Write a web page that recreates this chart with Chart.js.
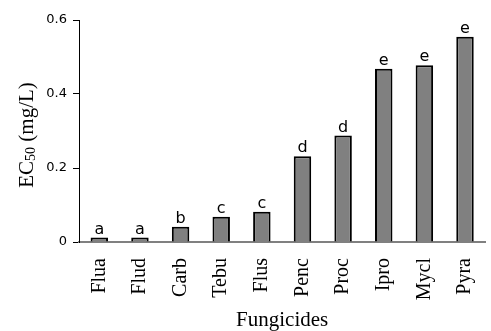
<!DOCTYPE html>
<html>
<head>
<meta charset="utf-8">
<script src="https://cdn.jsdelivr.net/npm/chart.js@4"></script>
<style>
  html, body { margin: 0; padding: 0; background: #fff; overflow: hidden; }
  canvas { display: block; }
</style>
</head>
<body>
<canvas id="myChart" width="497" height="331"></canvas>
<script>
// data
const fungicides = ['Flua', 'Flud', 'Carb', 'Tebu', 'Flus', 'Penc', 'Proc', 'Ipro', 'Mycl', 'Pyra'];
const ec50 = [0.012, 0.012, 0.041, 0.068, 0.082, 0.232, 0.288, 0.468, 0.478, 0.555];
const groups = ['a', 'a', 'b', 'c', 'c', 'd', 'd', 'e', 'e', 'e'];
const yTicks = [0, 0.2, 0.4, 0.6];

// letters over bars + the two axis titles
const extras = {
    id: 'extras',
    afterDatasetsDraw(chart) {
        const ctx = chart.ctx;
        const bars = chart.getDatasetMeta(0).data;
        ctx.save();
        ctx.fillStyle = '#000';
        ctx.font = '16px "DejaVu Sans"';
        ctx.textAlign = 'center';
        ctx.textBaseline = 'bottom';
        bars.forEach((b, i) => {
            ctx.fillText(groups[i], b.x, b.y);
        });
        ctx.restore();

        const area = chart.chartArea;
        // x title
        ctx.save();
        ctx.fillStyle = '#000';
        ctx.font = '21px "Liberation Serif"';
        ctx.textAlign = 'center';
        ctx.textBaseline = 'alphabetic';
        ctx.fillText('Fungicides', (area.left + area.right) / 2, 326);
        ctx.restore();

        // y title with subscript
        ctx.save();
        ctx.fillStyle = '#000';
        ctx.translate(33, 135);
        ctx.rotate(-Math.PI / 2);
        ctx.textBaseline = 'alphabetic';
        ctx.textAlign = 'left';
        const big = '21px "Liberation Serif"', small = '14px "Liberation Serif"';
        ctx.font = big;
        const w1 = ctx.measureText('EC').width;
        const w3 = ctx.measureText(' (mg/L)').width;
        ctx.font = small;
        const w2 = ctx.measureText('50').width;
        let x = -(w1 + w2 + w3) / 2;
        ctx.font = big;
        ctx.fillText('EC', x, 0);
        x += w1;
        ctx.font = small;
        ctx.fillText('50', x, 2);
        x += w2;
        ctx.font = big;
        ctx.fillText(' (mg/L)', x, 0);
        ctx.restore();
    }
};

new Chart(document.getElementById('myChart').getContext('2d'), {
    type: 'bar',
    data: {
        labels: fungicides,
        datasets: [
            {
                data: ec50,
                backgroundColor: '#808080',
                borderColor: '#000',
                borderWidth: 2,
                barPercentage: 0.43,
                categoryPercentage: 1
            }
        ]
    },
    options: {
        responsive: false,
        devicePixelRatio: 1,
        animation: false,
        layout: {padding: {top: 20, left: 0, right: 0, bottom: 0}},
        plugins: {legend: {display: false}, tooltip: {enabled: false}},
        scales: {
            x: {
                grid: {display: false},
                border: {display: true, color: '#808080', width: 2},
                ticks: {
                    color: '#000',
                    font: {family: 'Liberation Serif', size: 20},
                    minRotation: 90,
                    maxRotation: 90,
                    padding: 8
                },
                afterFit(scale) { scale.height = 89; }
            },
            y: {
                min: 0,
                max: 0.6,
                grid: {drawOnChartArea: false, drawTicks: true, tickLength: 6, color: '#000'},
                border: {display: true, color: '#000', width: 1},
                afterBuildTicks(scale) { scale.ticks = yTicks.map(v => ({value: v})); },
                ticks: {
                    color: '#000',
                    font: {family: 'DejaVu Sans', size: 13},
                    padding: 6,
                    callback: v => String(v)
                },
                afterFit(scale) { scale.width = 79; }
            }
        }
    },
    plugins: [extras]
});
</script>
</body>
</html>
